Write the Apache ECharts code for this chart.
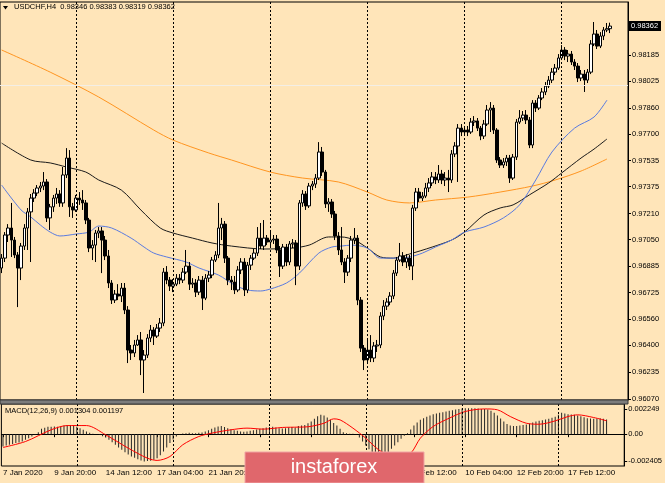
<!DOCTYPE html>
<html><head><meta charset="utf-8">
<script src="https://cdn.jsdelivr.net/npm/echarts@6/dist/echarts.min.js"></script>
<style>html,body{margin:0;padding:0;background:#FFE5B9;}#c{width:665px;height:483px;}</style>
</head><body><div id="c"></div>
<script>
// ---------- DATA ----------
const symbolName = 'USDCHF,H4';
const timeLabels = ['7 Jan 2020','9 Jan 20:00','14 Jan 12:00','17 Jan 04:00','21 Jan 20:00','24 Jan 12:00','29 Jan 04:00','31 Jan 20:00','5 Feb 12:00','10 Feb 04:00','12 Feb 20:00','17 Feb 12:00'];
const timeLabelStep = 16;           // one time label every 16 H4 bars
const separatorBars = [23,53,83,113,143,173]; // weekly period separators (Monday 00:00)
const totalSlots = 194;             // bar slots across the chart width (incl. right shift)

const priceTicks = ['0.96070','0.96235','0.96400','0.96560','0.96725','0.96885','0.97050','0.97210','0.97375','0.97535','0.97700','0.97860','0.98025','0.98185'];
const macdTickLabels = ['0.002249','0.00','-0.002405'];
const macdTickValues = [0.002249, 0, -0.002405];

const opens = [0.96875,0.96936,0.97078,0.97121,0.97047,0.96955,0.96875,0.97010,0.97121,0.97220,
0.97305,0.97336,0.97367,0.97379,0.97404,0.97183,0.97251,0.97305,0.97330,0.97275,
0.97447,0.97551,0.97251,0.97232,0.97305,0.97293,0.97275,0.97170,0.96998,0.97016,
0.97090,0.97103,0.97047,0.96949,0.96783,0.96678,0.96715,0.96703,0.96752,0.96617,
0.96371,0.96353,0.96402,0.96433,0.96310,0.96340,0.96445,0.96494,0.96457,0.96506,
0.96537,0.96850,0.96801,0.96764,0.96776,0.96813,0.96801,0.96850,0.96887,0.96776,
0.96783,0.96727,0.96801,0.96690,0.96813,0.96832,0.96924,0.96955,0.97121,0.97145,
0.96936,0.96801,0.96789,0.96740,0.96863,0.96912,0.96740,0.96893,0.96936,0.96967,
0.97059,0.97010,0.97059,0.97035,0.97047,0.97053,0.96986,0.96887,0.97004,0.96912,
0.97023,0.97029,0.96887,0.97275,0.97330,0.97257,0.97379,0.97391,0.97428,0.97588,
0.97465,0.97269,0.97281,0.97207,0.97072,0.96986,0.96912,0.96850,0.96936,0.97047,
0.97059,0.96678,0.96383,0.96310,0.96371,0.96322,0.96396,0.96402,0.96580,0.96641,
0.96666,0.96703,0.96844,0.96924,0.96949,0.96912,0.96936,0.96887,0.97244,0.97342,
0.97305,0.97317,0.97367,0.97398,0.97435,0.97416,0.97453,0.97416,0.97428,0.97416,
0.97576,0.97625,0.97735,0.97711,0.97723,0.97711,0.97772,0.97779,0.97735,0.97686,
0.97760,0.97846,0.97858,0.97723,0.97539,0.97508,0.97527,0.97551,0.97428,0.97557,
0.97772,0.97797,0.97815,0.97785,0.97631,0.97889,0.97858,0.97920,0.97957,0.97993,
0.98030,0.98079,0.98104,0.98166,0.98215,0.98178,0.98190,0.98141,0.98116,0.98043,
0.98067,0.98030,0.98079,0.98252,0.98313,0.98239,0.98301,0.98338,0.98346];

const highs = [0.96961,0.97096,0.97145,0.97275,0.97066,0.96973,0.97029,0.97145,0.97244,0.97330,
0.97360,0.97385,0.97404,0.97465,0.97422,0.97269,0.97324,0.97367,0.97354,0.97496,
0.97612,0.97600,0.97275,0.97324,0.97342,0.97354,0.97293,0.97183,0.97047,0.97109,
0.97127,0.97127,0.97072,0.96986,0.96801,0.96740,0.96776,0.96783,0.96783,0.96641,
0.96402,0.96433,0.96463,0.96482,0.96371,0.96469,0.96525,0.96512,0.96531,0.96568,
0.96875,0.96887,0.96820,0.96807,0.96838,0.96838,0.96875,0.96986,0.96912,0.96813,
0.96807,0.96826,0.96826,0.96838,0.96857,0.96943,0.96979,0.97275,0.97183,0.97164,
0.96949,0.96826,0.96826,0.96887,0.96936,0.96936,0.96912,0.96955,0.96992,0.97127,
0.97152,0.97170,0.97078,0.97109,0.97078,0.97078,0.97010,0.97023,0.97023,0.97041,
0.97053,0.97047,0.97293,0.97354,0.97348,0.97398,0.97410,0.97453,0.97649,0.97619,
0.97478,0.97305,0.97299,0.97226,0.97096,0.97127,0.96936,0.96955,0.97072,0.97121,
0.97078,0.96697,0.96402,0.96433,0.96463,0.96420,0.96433,0.96604,0.96678,0.96690,
0.96727,0.96863,0.96943,0.97029,0.96973,0.96961,0.96955,0.97263,0.97367,0.97367,
0.97342,0.97398,0.97428,0.97465,0.97465,0.97508,0.97478,0.97465,0.97478,0.97600,
0.97649,0.97760,0.97760,0.97748,0.97748,0.97797,0.97809,0.97797,0.97748,0.97785,
0.97877,0.97895,0.97877,0.97735,0.97557,0.97551,0.97570,0.97570,0.97576,0.97791,
0.97846,0.97840,0.97846,0.97803,0.97907,0.97907,0.97938,0.97981,0.98018,0.98055,
0.98104,0.98129,0.98190,0.98245,0.98233,0.98215,0.98209,0.98159,0.98135,0.98092,
0.98092,0.98098,0.98276,0.98387,0.98338,0.98325,0.98356,0.98381,0.98383];

const lows = [0.96844,0.96912,0.97035,0.96943,0.96936,0.96635,0.96801,0.96986,0.96986,0.96912,
0.97281,0.97317,0.97342,0.97354,0.97158,0.97109,0.97220,0.97269,0.97251,0.97251,
0.97428,0.97189,0.97183,0.97220,0.97263,0.97232,0.97145,0.96973,0.96924,0.96912,
0.97059,0.96844,0.96924,0.96752,0.96654,0.96660,0.96678,0.96666,0.96592,0.96291,
0.96310,0.96328,0.96396,0.96217,0.96107,0.96322,0.96420,0.96402,0.96445,0.96482,
0.96518,0.96776,0.96734,0.96727,0.96764,0.96776,0.96783,0.96838,0.96740,0.96752,
0.96697,0.96709,0.96617,0.96678,0.96789,0.96813,0.96912,0.96936,0.97047,0.96906,
0.96770,0.96740,0.96715,0.96727,0.96838,0.96703,0.96721,0.96863,0.96924,0.96949,
0.96992,0.96986,0.97016,0.97004,0.97023,0.96967,0.96820,0.96869,0.96887,0.96893,
0.96998,0.96770,0.96863,0.97251,0.97232,0.97244,0.97354,0.97367,0.97416,0.97441,
0.97244,0.97220,0.97183,0.97047,0.96955,0.96893,0.96783,0.96826,0.96912,0.97023,
0.96647,0.96359,0.96248,0.96285,0.96297,0.96297,0.96359,0.96383,0.96555,0.96617,
0.96647,0.96684,0.96826,0.96912,0.96887,0.96875,0.96863,0.96801,0.97226,0.97281,
0.97287,0.97305,0.97342,0.97379,0.97391,0.97398,0.97391,0.97379,0.97342,0.97398,
0.97557,0.97404,0.97686,0.97693,0.97686,0.97699,0.97748,0.97717,0.97661,0.97668,
0.97748,0.97711,0.97699,0.97521,0.97490,0.97490,0.97502,0.97398,0.97416,0.97539,
0.97760,0.97779,0.97760,0.97612,0.97612,0.97834,0.97846,0.97907,0.97938,0.97981,
0.98012,0.98061,0.98092,0.98153,0.98153,0.98141,0.98123,0.98092,0.98018,0.98024,
0.97957,0.98012,0.98067,0.98239,0.98221,0.98227,0.98276,0.98325,0.98319];

const closes = [0.96936,0.97078,0.97121,0.97047,0.96955,0.96875,0.97010,0.97121,0.97220,0.97305,
0.97336,0.97367,0.97379,0.97404,0.97183,0.97251,0.97305,0.97330,0.97275,0.97447,
0.97551,0.97251,0.97232,0.97305,0.97293,0.97275,0.97170,0.96998,0.97016,0.97090,
0.97103,0.97047,0.96949,0.96783,0.96678,0.96715,0.96703,0.96752,0.96617,0.96371,
0.96353,0.96402,0.96433,0.96310,0.96340,0.96445,0.96494,0.96457,0.96506,0.96537,
0.96850,0.96801,0.96764,0.96776,0.96813,0.96801,0.96850,0.96887,0.96776,0.96783,
0.96727,0.96801,0.96690,0.96813,0.96832,0.96924,0.96955,0.97121,0.97145,0.96936,
0.96801,0.96789,0.96740,0.96863,0.96912,0.96740,0.96893,0.96936,0.96967,0.97059,
0.97010,0.97059,0.97035,0.97047,0.97053,0.96986,0.96887,0.97004,0.96912,0.97023,
0.97029,0.96887,0.97275,0.97330,0.97257,0.97379,0.97391,0.97428,0.97588,0.97465,
0.97269,0.97281,0.97207,0.97072,0.96986,0.96912,0.96850,0.96936,0.97047,0.97059,
0.96678,0.96383,0.96310,0.96371,0.96322,0.96396,0.96402,0.96580,0.96641,0.96666,
0.96703,0.96844,0.96924,0.96949,0.96912,0.96936,0.96887,0.97244,0.97342,0.97305,
0.97317,0.97367,0.97398,0.97435,0.97416,0.97453,0.97416,0.97428,0.97416,0.97576,
0.97625,0.97735,0.97711,0.97723,0.97711,0.97772,0.97779,0.97735,0.97686,0.97760,
0.97846,0.97858,0.97723,0.97539,0.97508,0.97527,0.97551,0.97428,0.97557,0.97772,
0.97797,0.97815,0.97785,0.97631,0.97889,0.97858,0.97920,0.97957,0.97993,0.98030,
0.98079,0.98104,0.98166,0.98215,0.98178,0.98190,0.98141,0.98116,0.98043,0.98067,
0.98030,0.98079,0.98252,0.98313,0.98239,0.98301,0.98338,0.98346,0.98362];

// moving averages, read as [bar, price]
const maBlue = [[0,0.97385],[6,0.97232],[9,0.97189],[12,0.97139],[15,0.97096],[18,0.97072],[23,0.97084],[27,0.97096],[30,0.97133],[34,0.97121],[40,0.97059],[44,0.97004],[47,0.96967],[51,0.96943],[57,0.96912],[61,0.96875],[67,0.96832],[72,0.96770],[76,0.96740],[80,0.96734],[83,0.96746],[88,0.96783],[92,0.96844],[98,0.96967],[102,0.97004],[105,0.97010],[108,0.97016],[113,0.96998],[117,0.96936],[121,0.96936],[126,0.96943],[130,0.96967],[134,0.97004],[139,0.97047],[143,0.97096],[149,0.97127],[155,0.97183],[160,0.97263],[165,0.97416],[170,0.97588],[177,0.97735],[183,0.97803],[187,0.97907]];
const maBlack = [[0,0.97643],[9,0.97539],[15,0.97521],[20,0.97496],[26,0.97465],[30,0.97416],[37,0.97354],[43,0.97232],[49,0.97121],[53,0.97090],[59,0.97059],[65,0.97029],[71,0.97010],[81,0.96992],[90,0.96998],[95,0.97016],[101,0.97066],[105,0.97066],[109,0.97047],[113,0.96998],[117,0.96943],[121,0.96936],[126,0.96961],[133,0.97004],[139,0.97047],[143,0.97096],[149,0.97201],[154,0.97244],[158,0.97263],[163,0.97324],[169,0.97398],[173,0.97459],[179,0.97551],[183,0.97606],[187,0.97668]];
const maOrange = [[0,0.98215],[15,0.98079],[30,0.97926],[47,0.97723],[53,0.97661],[64,0.97582],[71,0.97539],[83,0.97465],[93,0.97428],[104,0.97404],[113,0.97342],[119,0.97293],[126,0.97275],[134,0.97293],[144,0.97311],[154,0.97342],[164,0.97379],[171,0.97416],[179,0.97471],[187,0.97545]];

const macdHist = [-0.00110,-0.00101,-0.00095,-0.00089,-0.00080,-0.00074,-0.00066,-0.00051,-0.00036,-0.00021,
-0.00006,0.00018,0.00048,0.00057,0.00066,0.00066,0.00069,0.00066,0.00069,0.00077,
0.00083,0.00083,0.00077,0.00066,0.00054,0.00039,0.00024,0.00012,0.00003,0.00000,
-0.00006,-0.00018,-0.00030,-0.00051,-0.00072,-0.00095,-0.00119,-0.00140,-0.00161,-0.00182,
-0.00200,-0.00212,-0.00224,-0.00235,-0.00244,-0.00241,-0.00238,-0.00229,-0.00215,-0.00188,
-0.00155,-0.00119,-0.00080,-0.00048,-0.00021,-0.00003,0.00006,0.00009,0.00012,0.00009,
0.00009,0.00012,0.00015,0.00024,0.00036,0.00048,0.00060,0.00069,0.00072,0.00063,
0.00054,0.00045,0.00036,0.00030,0.00024,0.00021,0.00024,0.00030,0.00036,0.00042,
0.00048,0.00054,0.00060,0.00063,0.00066,0.00060,0.00054,0.00051,0.00054,0.00060,
0.00063,0.00060,0.00072,0.00077,0.00083,0.00098,0.00113,0.00137,0.00161,0.00173,
0.00167,0.00149,0.00128,0.00101,0.00077,0.00048,0.00018,0.00009,0.00003,0.00003,
-0.00002,-0.00030,-0.00066,-0.00101,-0.00134,-0.00161,-0.00185,-0.00197,-0.00203,-0.00185,
-0.00161,-0.00131,-0.00101,-0.00072,-0.00042,-0.00015,0.00009,0.00042,0.00077,0.00104,
0.00128,0.00143,0.00155,0.00167,0.00179,0.00185,0.00191,0.00197,0.00203,0.00209,
0.00215,0.00221,0.00226,0.00229,0.00232,0.00232,0.00232,0.00232,0.00229,0.00226,
0.00226,0.00221,0.00209,0.00191,0.00167,0.00140,0.00113,0.00092,0.00077,0.00072,
0.00072,0.00077,0.00083,0.00086,0.00095,0.00104,0.00113,0.00119,0.00125,0.00131,
0.00137,0.00146,0.00155,0.00173,0.00191,0.00185,0.00179,0.00176,0.00173,0.00167,
0.00161,0.00152,0.00143,0.00140,0.00137,0.00140,0.00143,0.00137,0.001304];
const macdSignal = [[0,-0.00119],[7,-0.00066],[15,0.00039],[20,0.00077],[26,0.00077],[32,-0.00006],[39,-0.00125],[45,-0.00215],[48,-0.00235],[52,-0.00200],[56,-0.00095],[61,-0.00021],[65,0.00009],[71,0.00039],[76,0.00054],[81,0.00045],[87,0.00060],[92,0.00063],[95,0.00066],[100,0.00098],[103,0.00137],[105,0.00128],[109,0.00054],[113,-0.00036],[117,-0.00140],[121,-0.00200],[123,-0.00215],[127,-0.00170],[130,-0.00036],[134,0.00069],[139,0.00143],[144,0.00203],[150,0.00226],[154,0.00218],[158,0.00158],[163,0.00098],[167,0.00089],[172,0.00119],[176,0.00158],[179,0.00173],[184,0.00149],[188,0.001197]];

// ---------- CHART ----------
const FONT = 'Liberation Sans';
const last = closes.length - 1;
const cats = Array.from({length: totalSlots}, (_, i) => String(i));
const candleData = closes.map((c, i) => [opens[i], c, lows[i], highs[i]]);
const priceTickValues = priceTicks.map(Number);
const sepLines = separatorBars.map(b => ({xAxis: String(b)}));
const showTimeLabel = (idx) => idx % timeLabelStep === 0 && idx / timeLabelStep < timeLabels.length;
const currentPrice = closes[last];
const signalLast = macdSignal[macdSignal.length - 1][1];

const chart = echarts.init(document.getElementById('c'), null, {renderer: 'canvas'});
const baseGraphic = [
  {id: 'tri', type: 'polygon', shape: {points: [[3, 6], [8, 6], [5.5, 9.5]]}, style: {fill: '#000'}},
  {id: 'sep', type: 'rect', shape: {x: 0, y: 400, width: 628, height: 4}, style: {fill: '#7c7c7c', stroke: '#3a3a3a', lineWidth: 1}, z: 50},
  {id: 'wmBox', type: 'rect', shape: {x: 245, y: 452, width: 179, height: 31}, style: {fill: '#E0676C', stroke: '#F0A4A4', lineWidth: 1}, z: 100},
  {id: 'wmText', type: 'text', x: 334, y: 467, z: 101, style: {text: 'instaforex', fill: '#ffffff', font: '20px "Liberation Sans"', align: 'center', verticalAlign: 'middle'}}
];
chart.setOption({
  animation: false,
  backgroundColor: '#FFE5B9',
  textStyle: {fontFamily: FONT},
  title: [
    {text: symbolName + '  ' + [opens[last], highs[last], lows[last], closes[last]].map(v => v.toFixed(5)).join(' '),
     left: 14, top: 3, padding: 0, textStyle: {fontSize: 7.5, fontWeight: 'normal', color: '#000', fontFamily: FONT}},
    {text: 'MACD(12,26,9) ' + macdHist[last].toFixed(6) + ' ' + signalLast.toFixed(6),
     left: 5, top: 407, padding: 0, textStyle: {fontSize: 7.5, fontWeight: 'normal', color: '#000', fontFamily: FONT}}
  ],
  grid: [
    {left: 0, right: 37, top: 2, height: 398, show: true, borderColor: '#000', borderWidth: 1, backgroundColor: 'transparent'},
    {left: 0, right: 37, top: 404, height: 62, show: true, borderColor: '#000', borderWidth: 1, backgroundColor: 'transparent'}
  ],
  xAxis: [
    {gridIndex: 0, type: 'category', data: cats, boundaryGap: true,
     axisLine: {show: false}, axisTick: {show: false}, axisLabel: {show: false}, splitLine: {show: false}},
    {gridIndex: 1, type: 'category', data: cats, boundaryGap: true,
     axisLine: {show: true, lineStyle: {color: '#000'}},
     axisTick: {show: true, interval: showTimeLabel, alignWithLabel: true, length: 3, lineStyle: {color: '#000'}},
     axisLabel: {interval: showTimeLabel, formatter: (v, idx) => timeLabels[idx / timeLabelStep] || '',
       align: 'left', fontSize: 8, margin: 3, color: '#000', fontFamily: FONT},
     splitLine: {show: false}}
  ],
  yAxis: [
    {gridIndex: 0, type: 'value', position: 'right', min: 0.96064, max: 0.98510,
     splitLine: {show: false},
     axisLine: {show: true, lineStyle: {color: '#000'}},
     axisTick: {show: true, customValues: priceTickValues, length: 3, lineStyle: {color: '#000'}},
     axisLabel: {customValues: priceTickValues, formatter: v => v.toFixed(5), fontSize: 7.5, color: '#000', margin: 4, fontFamily: FONT}},
    {gridIndex: 1, type: 'value', position: 'right', min: -0.00285, max: 0.0027,
     splitLine: {show: false},
     axisLine: {show: true, lineStyle: {color: '#000'}},
     axisTick: {show: true, customValues: macdTickValues, length: 3, lineStyle: {color: '#000'}},
     axisLabel: {customValues: macdTickValues,
       formatter: v => { const k = macdTickValues.findIndex(t => Math.abs(t - v) < 1e-9); return k >= 0 ? macdTickLabels[k] : ''; },
       fontSize: 7.5, color: '#000', margin: 4, fontFamily: FONT}}
  ],
  series: [
    {type: 'line', name: 'MA slow', xAxisIndex: 0, yAxisIndex: 0, data: maOrange, showSymbol: false, smooth: 0.3,
     lineStyle: {color: '#FF9520', width: 1}, z: 2,
     markLine: {silent: true, symbol: ['none', 'none'], animation: false,
       data: [{yAxis: currentPrice}],
       lineStyle: {color: '#f3eee6', type: 'solid', width: 1},
       label: {show: false}}},
    {type: 'line', name: 'MA mid', xAxisIndex: 0, yAxisIndex: 0, data: maBlack, showSymbol: false, smooth: 0.3,
     lineStyle: {color: '#1a1a1a', width: 1}, z: 2},
    {type: 'line', name: 'MA fast', xAxisIndex: 0, yAxisIndex: 0, data: maBlue, showSymbol: false, smooth: 0.3,
     lineStyle: {color: '#5A7BE0', width: 1}, z: 2},
    {type: 'candlestick', xAxisIndex: 0, yAxisIndex: 0, data: candleData, barWidth: 3, z: 3,
     itemStyle: {color: '#ffffff', color0: '#000000', borderColor: '#000000', borderColor0: '#000000', borderWidth: 1},
     markLine: {silent: true, symbol: ['none', 'none'], animation: false,
       label: {show: false},
       lineStyle: {color: '#000', type: [2, 2], width: 1},
       data: sepLines}},
    {type: 'bar', xAxisIndex: 1, yAxisIndex: 1, data: macdHist, barWidth: 1, itemStyle: {color: '#262626'},
     markLine: {silent: true, symbol: ['none', 'none'], animation: false, label: {show: false},
       lineStyle: {color: '#000', type: [2, 2], width: 1}, data: sepLines}},
    {type: 'line', xAxisIndex: 1, yAxisIndex: 1, data: macdSignal, showSymbol: false, smooth: 0.3,
     lineStyle: {color: '#ff0000', width: 1}, z: 4}
  ],
  graphic: baseGraphic
});

// current-price tag on the price axis, placed through the axis scale
const tagY = chart.convertToPixel({yAxisIndex: 0}, currentPrice);
chart.setOption({
  graphic: baseGraphic.concat([
    {id: 'tagBox', type: 'rect', shape: {x: 629, y: Math.round(tagY) - 5, width: 32, height: 10}, style: {fill: '#000'}, z: 60},
    {id: 'tagText', type: 'text', x: 631, y: Math.round(tagY), z: 61,
     style: {text: currentPrice.toFixed(5), fill: '#ffffff', font: '7.5px "Liberation Sans"', align: 'left', verticalAlign: 'middle'}}
  ])
});
</script>
</body></html>
